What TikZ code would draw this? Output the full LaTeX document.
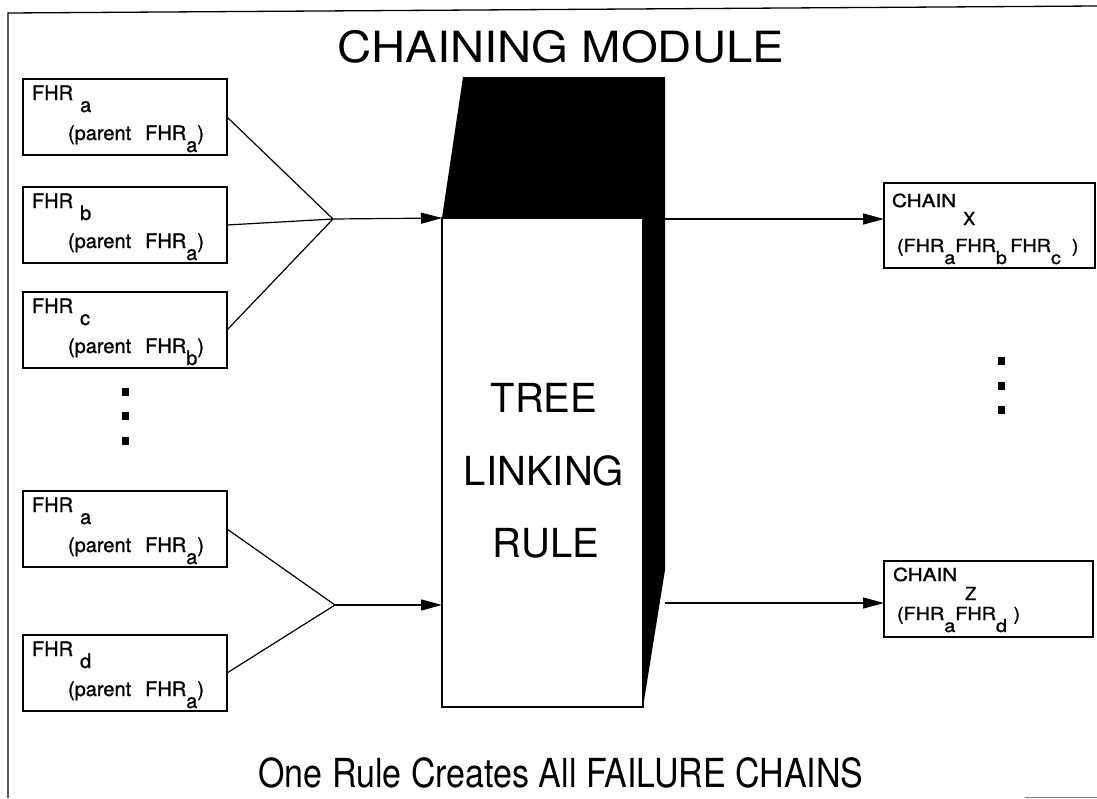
\documentclass[tikz,border=0pt]{standalone}
\usepackage{fontspec}
\setmainfont{TeX Gyre Heros}
\newfontfamily\heavy{TeX Gyre Heros}[FakeBold=1.2]
\usepackage{graphicx}
\usetikzlibrary{arrows.meta}
\newcommand\lo[1]{\raisebox{-12pt}{#1}}
\newcommand\fhrnode[4]{%
  \node[fhrbox] (#1) at (23,#2) {};
  \node[small] (#1t) at ([shift={(9,21)}]#1.north west) {FHR\hspace{7pt}\lo{#3}};
  \node[small] (#1p) at ([shift={(45,61)}]#1.north west) {(parent\hspace{14pt}FHR\lo{#4})};
}
\begin{document}
\begin{tikzpicture}[x=1pt,y=-1pt,
  every node/.style={inner sep=0pt,outer sep=0pt},
  fhrbox/.style={draw,line width=1.4pt,minimum width=204pt,minimum height=76pt,anchor=north west},
  chainbox/.style={draw,line width=1.4pt,anchor=north west},
  small/.style={font=\heavy\fontsize{20}{24}\selectfont,anchor=base west},
  chaintxt/.style={font=\heavy\fontsize{18}{22}\selectfont,anchor=base west},
  conn/.style={line width=1.2pt},
  arr/.style={line width=1.2pt,-{Triangle[length=21pt,width=11pt]}},
  dot/.style={fill=black,minimum width=7pt,minimum height=8pt},
  big/.style={font=\fontsize{40}{48}\selectfont,anchor=base},
  frame/.style={line width=1.3pt}
]
\useasboundingbox (0,0) rectangle (1097,798);
% outer frame
\coordinate (f1) at (8,798);
\coordinate (f2) at (8,13);
\coordinate (f3) at (1097,6);
\draw[frame] (f1) -- (f2) -- (f3);
\coordinate (f4) at (1025,797);
\coordinate (f5) at (1097,797);
\draw[line width=1pt,gray] (f4) -- (f5);

% title
\node[font=\fontsize{43}{52}\selectfont,anchor=base] (title) at (561,62) {\scalebox{1.1}[1]{CHAINING MODULE}};

% left boxes
\fhrnode{A1}{79}{a}{a}
\fhrnode{B}{187}{b}{a}
\fhrnode{C}{292}{c}{b}
\fhrnode{A2}{491}{a}{a}
\fhrnode{D}{635}{d}{a}

% dots
\node[dot] (l1) at (125,392) {};
\node[dot] (l2) at (125,416) {};
\node[dot] (l3) at (125,441) {};
\node[dot] (r1) at (1001,361) {};
\node[dot] (r2) at (1001,386) {};
\node[dot] (r3) at (1001,410) {};

% central block
\node[draw,fill=white,line width=1.3pt,minimum width=201pt,minimum height=489pt,anchor=north west] (front) at (442,218) {};
\coordinate (k1) at (463,77);
\coordinate (k2) at (665,77);
\coordinate (k3) at (665,570);
\fill[black] (front.north west) -- (k1) -- (k2) -- (k3) -- (front.south east) -- (front.north east) -- cycle;
\node[big] (t1) at (544,412) {TREE};
\node[big] (t2) at (544,485) {LINKING};
\node[big] (t3) at (546,557) {RULE};

% junctions and arrows
\coordinate (J1) at (333,219);
\coordinate (J2) at (335,605);
\draw[conn] (A1.east) -- (J1) (B.east) -- (J1) (C.east) -- (J1);
\draw[conn] (A2.east) -- (J2) (D.east) -- (J2);
\draw[arr] (J1) -- (front.north west);
\draw[arr] (J2) -- (J2 -| front.west);

% right boxes
\node[chainbox,minimum width=211pt,minimum height=85pt] (CX) at (884,183) {};
\node[chainbox,minimum width=209pt,minimum height=76pt] (CZ) at (884,561) {};
\coordinate (o1) at (665,219);
\coordinate (o2) at (665,603);
\draw[arr] (o1) -- (o1 -| CX.west);
\draw[arr] (o2) -- (o2 -| CZ.west);

\node[chaintxt] (CXa) at (892,207) {\scalebox{1.15}[1]{CHAIN}\hspace{7pt}\raisebox{-18pt}{X}};
\node[chaintxt] (CXb) at (897,252) {\scalebox{1.1}[1]{(FHR\lo{a}FHR\lo{b}\,FHR\lo{c}\hspace{10pt})}};
\node[chaintxt] (CZa) at (893,581) {\scalebox{1.15}[1]{CHAIN}\hspace{8pt}\raisebox{-19pt}{Z}};
\node[chaintxt] (CZb) at (897,620) {\scalebox{1.1}[1]{(FHR\lo{a}FHR\lo{d}\hspace{6pt})}};

% footer
\node[font=\fontsize{40}{48}\selectfont,anchor=base] (foot) at (561,787) {\scalebox{0.85}[1]{One Rule Creates All FAILURE CHAINS}};
\end{tikzpicture}
\end{document}
